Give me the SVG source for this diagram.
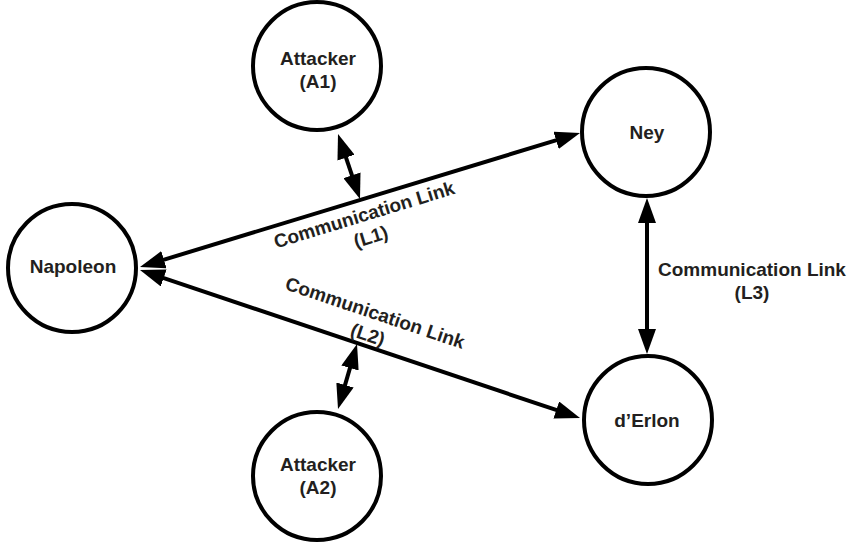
<svg xmlns="http://www.w3.org/2000/svg" width="856" height="545" viewBox="0 0 856 545">
  <style>
    .node { fill: #ffffff; stroke: #000000; stroke-width: 4; }
    .lbl { font-family: "Liberation Sans", Arial, Helvetica, sans-serif; font-weight: bold; font-size: 19px; fill: #231f20; text-anchor: middle; }
    .link { fill: none; stroke: #000000; stroke-width: 4; marker-start: url(#arrow); marker-end: url(#arrow); }
  </style>
  <defs>
    <marker id="arrow" markerUnits="userSpaceOnUse" markerWidth="25" markerHeight="18" viewBox="0 0 25 18" refX="10" refY="9" orient="auto-start-reverse">
      <path d="M0,0 L25,9 L0,18 Z" fill="#000000"/>
    </marker>
  </defs>
  <rect width="856" height="545" fill="#ffffff"/>

  <g id="connectors">
    <path id="L1" class="link" d="M154.35,262.63 L565.65,137.37"/>
    <path id="L2" class="link" d="M154.22,274.78 L565.78,413.22"/>
    <path id="L3" class="link" d="M647,213 L647,339"/>
    <path id="A1-L1" class="link" d="M342.81,148.21 L355.19,184.79"/>
    <path id="A2-L2" class="link" d="M352.79,358.40 L342.21,394.60"/>
    <g id="label-L1" transform="translate(366,221) rotate(-17)">
      <text class="lbl" x="0" y="0">Communication Link</text>
      <text class="lbl" x="0" y="23">(L1)</text>
    </g>
    <g id="label-L2" transform="translate(373,319) rotate(18.6)">
      <text class="lbl" x="0" y="0">Communication Link</text>
      <text class="lbl" x="0" y="23">(L2)</text>
    </g>
    <g id="label-L3">
      <text class="lbl" x="752" y="276">Communication Link</text>
      <text class="lbl" x="752" y="299">(L3)</text>
    </g>
  </g>

  <g id="attacker-a1">
    <circle class="node" cx="317" cy="66" r="64"/>
    <text class="lbl" x="318" y="65">Attacker</text>
    <text class="lbl" x="318" y="88">(A1)</text>
  </g>
  <g id="napoleon">
    <circle class="node" cx="72" cy="268" r="64"/>
    <text class="lbl" x="73" y="273">Napoleon</text>
  </g>
  <g id="ney">
    <circle class="node" cx="646" cy="132" r="64"/>
    <text class="lbl" x="647" y="139">Ney</text>
  </g>
  <g id="derlon">
    <circle class="node" cx="648" cy="420" r="64"/>
    <text class="lbl" x="647" y="427">d’Erlon</text>
  </g>
  <g id="attacker-a2">
    <circle class="node" cx="317" cy="476" r="64"/>
    <text class="lbl" x="318" y="471">Attacker</text>
    <text class="lbl" x="318" y="494">(A2)</text>
  </g>
</svg>
